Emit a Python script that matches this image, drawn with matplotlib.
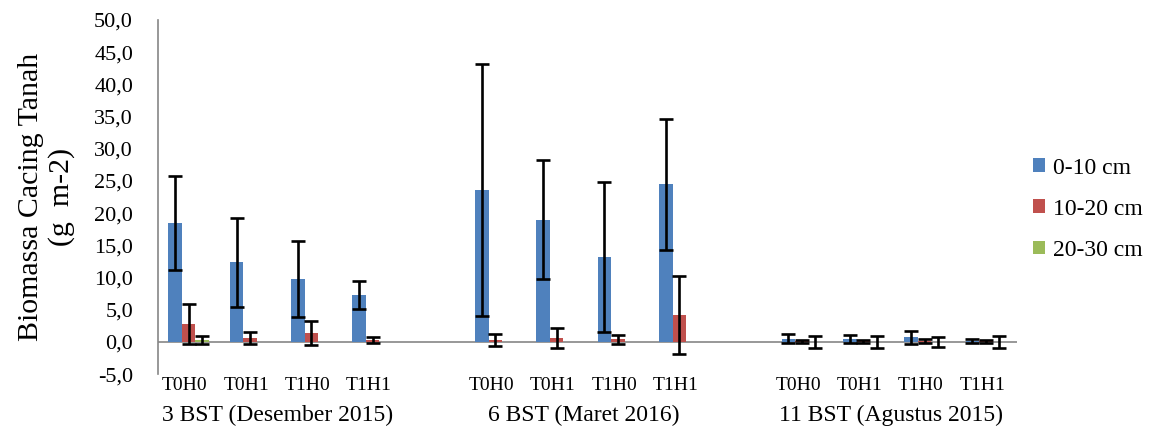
import numpy as np
import matplotlib.pyplot as plt
from matplotlib.transforms import blended_transform_factory

# three sampling times, four treatments each
groups = ['3 BST (Desember 2015)', '6 BST (Maret 2016)', '11 BST (Agustus 2015)']
treatments = ['T0H0', 'T0H1', 'T1H0', 'T1H1']
depths = ['0-10 cm', '10-20 cm', '20-30 cm']

# means per depth, groups in order (12 values)
d0_10 = [18.5, 12.4, 9.8, 7.3,
         23.6, 19.0, 13.2, 24.5,
         0.5, 0.4, 0.7, 0.2]
d10_20 = [2.8, 0.6, 1.4, 0.3,
          0.3, 0.6, 0.4, 4.2,
          0.1, 0.1, 0.1, 0.1]
d20_30 = [0.3, 0.0, 0.0, 0.0,
          0.0, 0.0, 0.0, 0.0,
          0.0, 0.0, 0.0, 0.0]

# standard deviations (nan = no error bar)
e0_10 = [7.3, 6.9, 5.9, 2.2,
         19.6, 9.2, 11.6, 10.2,
         0.7, 0.6, 1.0, 0.3]
e10_20 = [3.1, 1.0, 1.9, 0.5,
          0.9, 1.6, 0.7, 6.0,
          0.2, 0.2, 0.3, 0.2]
e20_30 = [0.6, np.nan, np.nan, np.nan,
          np.nan, np.nan, np.nan, np.nan,
          0.9, 0.9, 0.8, 0.9]

colors = ['#4F81BD', '#C0504D', '#9BBB59']


def main():
    plt.rcParams['font.family'] = ['Liberation Serif', 'DejaVu Serif']
    fig = plt.figure(figsize=(11.5, 4.32), dpi=100)
    ax = fig.add_axes([0.1374, 0.134, 0.7466, 0.8197])

    # category positions with one empty slot between groups
    x = np.array([g * 5 + t for g in range(3) for t in range(4)], dtype=float)
    w = 0.22
    err_kw = dict(ecolor='black', elinewidth=1.9, capsize=4.8, capthick=1.9)

    series = [(d0_10, e0_10), (d10_20, e10_20), (d20_30, e20_30)]
    handles = []
    for k, (vals, errs) in enumerate(series):
        b = ax.bar(x + (k - 1) * w, vals, w, yerr=errs, color=colors[k],
                   error_kw=err_kw, label=depths[k], zorder=2)
        handles.append(b)

    ax.axhline(0, color='#868686', lw=1.2, zorder=1)
    ax.set_xlim(-0.5, 13.5)
    ax.set_ylim(-5, 50)
    ax.set_yticks(np.arange(-5, 50.1, 5))
    ax.set_yticklabels([f'{v:.1f}'.replace('.', ',') for v in np.arange(-5, 50.1, 5)],
                       fontsize=16)
    ax.tick_params(axis='y', length=0, pad=18)
    ax.set_xticks(x - 0.06)
    ax.set_xticklabels(treatments * 3, fontsize=14)
    ax.tick_params(axis='x', length=0, pad=2)

    for s in ['top', 'right', 'bottom']:
        ax.spines[s].set_visible(False)
    ax.spines['left'].set_color('#868686')
    ax.spines['left'].set_linewidth(1.2)

    trans = blended_transform_factory(ax.transData, ax.transAxes)
    for g, name in enumerate(groups):
        ax.text(g * 5 + 1.45, -0.118, name, transform=trans, ha='center',
                va='center', fontsize=17)

    ax.set_ylabel('Biomassa Cacing Tanah\n(g  m-2)', fontsize=21.5,
                  linespacing=1.2, labelpad=14)

    fig.legend(handles=handles, loc='center left', bbox_to_anchor=(0.88, 0.516),
               frameon=False, fontsize=17, handlelength=0.5, handleheight=0.5,
               handletextpad=0.35, labelspacing=0.85)

    fig.savefig('out.png', dpi=100)


if __name__ == '__main__':
    main()
